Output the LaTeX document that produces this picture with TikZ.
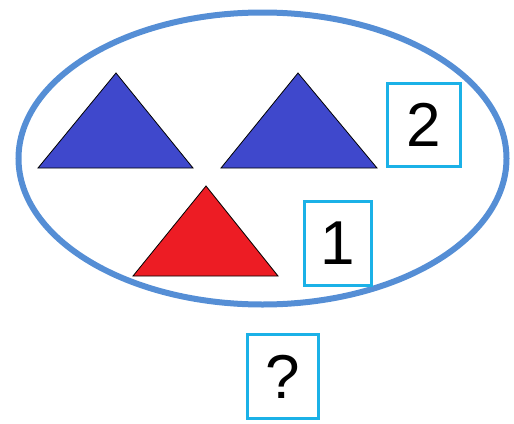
\documentclass[tikz,border=0pt]{standalone}
\usepackage{fontspec}
\setmainfont{Liberation Sans}
\usetikzlibrary{positioning}
\definecolor{setblue}{RGB}{85,142,213}
\definecolor{triblue}{RGB}{63,72,204}
\definecolor{trired}{RGB}{237,28,36}
\definecolor{boxcyan}{RGB}{27,177,231}

\begin{document}
\begin{tikzpicture}[x=1pt, y=-1pt, semithick,
  tri/.style={draw=black, line width=0.8pt, line join=miter},
  numbox/.style={draw=boxcyan, line width=3.5pt, fill=white, inner sep=0pt,
    font=\fontsize{62}{62}\selectfont}]

  \useasboundingbox (0,0) rectangle (514,423);

  % Set
  \draw[setblue, line width=6pt] (262.5,158.5) ellipse [x radius=244, y radius=146];

  % Triangles
  \filldraw[tri, fill=triblue] (38,168) -- (116,73) -- (193,168) -- cycle;
  \filldraw[tri, fill=triblue] (221,168) -- (298,73) -- (377,168) -- cycle;
  \filldraw[tri, fill=trired] (133,276) -- (206,186) -- (278,276) -- cycle;

  % Counts
  \node[numbox, minimum width=73pt, minimum height=83pt] (two) at (424,125) {2};
  \node[numbox, minimum width=67pt, minimum height=84pt] (one) at (338,243.5) {1};
  \node[numbox, minimum width=71pt, minimum height=84pt] (ask) at (283,376.5) {?};

\end{tikzpicture}
\end{document}
